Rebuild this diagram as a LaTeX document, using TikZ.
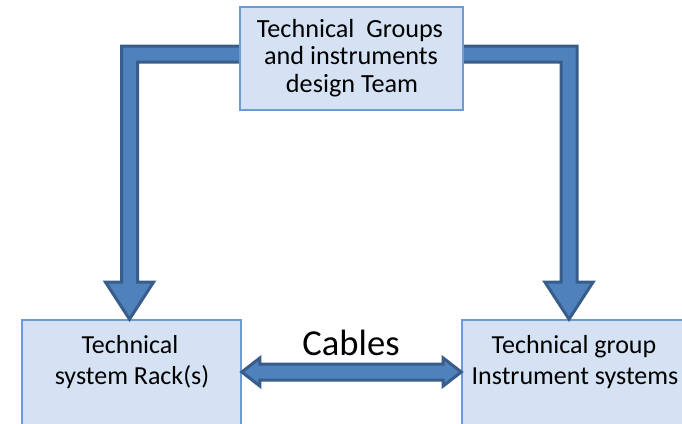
\documentclass[tikz,border=0pt]{standalone}
\usepackage{fontspec}
\setmainfont{Carlito}
\usetikzlibrary{calc}
\definecolor{boxfill}{HTML}{D5E2F4}
\definecolor{boxline}{HTML}{6D9BD5}
\definecolor{arrfill}{HTML}{4F81BD}
\definecolor{arrline}{HTML}{385D8A}
\tikzset{
  box/.style={draw=boxline, fill=boxfill, line width=1.6pt, inner sep=0pt},
  txt/.style={anchor=base, inner sep=0pt, font=\fontsize{26.2}{28}\selectfont},
  smalltxt/.style={anchor=base, inner sep=0pt, font=\fontsize{26}{30}\selectfont},
  bigtxt/.style={anchor=base, inner sep=0pt, font=\fontsize{36.6}{40}\selectfont},
  fatarrow/.style={fill=arrfill, draw=arrline, line width=3pt, line join=miter},
}
\begin{document}
\begin{tikzpicture}[x=1pt,y=-1pt]
\useasboundingbox (0,0) rectangle (682,423);
\clip (0,0) rectangle (682,423);

% lower boxes (they run past the lower and right edges)
\node[box, minimum width=219pt, minimum height=120pt] (rack) at (131.5,380) {};
\node[box, minimum width=230pt, minimum height=120pt] (instr) at (577,380) {};

% top box position (drawn after the arrows so it covers their tails)
\path (351.5,58.5) coordinate (topc);
\node[minimum width=223pt, minimum height=103pt, inner sep=0pt] (topbox) at (topc) {};

% left elbow arrow: top box -> rack
\coordinate (ls) at ($(topbox.west)+(0,-4.5)$);
\coordinate (lt) at ($(rack.north)+(-2,0)$);
\coordinate (lc) at (lt |- ls);
\draw[fatarrow] ($(ls)+(2,-8)$) -- ($(lc)+(-8,-8)$) -- ($(lt)+(-8,-37)$)
  -- ($(lt)+(-24,-37)$) -- (lt) -- ($(lt)+(24,-37)$) -- ($(lt)+(8,-37)$)
  -- ($(lc)+(8,8)$) -- ($(ls)+(2,8)$) -- cycle;

% right elbow arrow: top box -> instrument systems
\coordinate (rs) at ($(topbox.east)+(0,-4.5)$);
\coordinate (rt) at ($(instr.north)+(-8,0)$);
\coordinate (rc) at (rt |- rs);
\draw[fatarrow] ($(rs)+(-2,-8)$) -- ($(rc)+(8,-8)$) -- ($(rt)+(8,-37)$)
  -- ($(rt)+(24,-37)$) -- (rt) -- ($(rt)+(-24,-37)$) -- ($(rt)+(-8,-37)$)
  -- ($(rc)+(-8,8)$) -- ($(rs)+(-2,8)$) -- cycle;

% double arrow between the two lower boxes
\coordinate (ca) at ($(rack.east)+(0,-8)$);
\coordinate (cb) at ($(instr.west)+(0,-8)$);
\draw[fatarrow] (ca) -- ($(ca)+(18,-14)$) -- ($(ca)+(18,-8)$) -- ($(cb)+(-18,-8)$)
  -- ($(cb)+(-18,-14)$) -- (cb) -- ($(cb)+(-18,14)$) -- ($(cb)+(-18,8)$)
  -- ($(ca)+(18,8)$) -- ($(ca)+(18,14)$) -- cycle;

% top box
\node[box, minimum width=223pt, minimum height=103pt] (top) at (topc) {};

% texts
\node[txt] (t1) at (350,37) {Technical\ \ Groups};
\node[txt] (t2) at (351,64) {and instruments};
\node[txt] (t3) at (352,92) {design Team};
\node[smalltxt] (r1) at (130,353) {Technical};
\node[smalltxt] (r2) at (132,384) {system Rack(s)};
\node[smalltxt] (i1) at (574,353) {Technical group};
\node[smalltxt] (i2) at (575,384) {Instrument systems};
\node[bigtxt] (cab) at (351,355) {Cables};
\end{tikzpicture}
\end{document}
